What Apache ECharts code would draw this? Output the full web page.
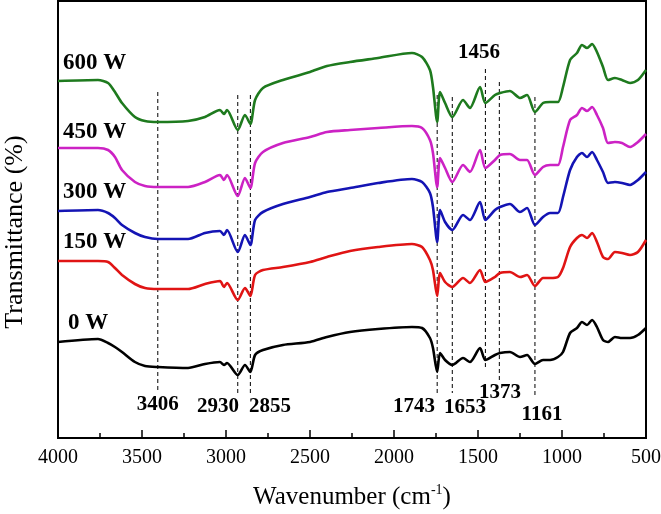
<!DOCTYPE html>
<html><head><meta charset="utf-8">
<script src="https://cdn.jsdelivr.net/npm/echarts/dist/echarts.min.js"></script>
<style>html,body{margin:0;padding:0;background:#fff}#c{width:661px;height:514px}</style>
</head><body><div id="c"></div>
<script>
const wavenumbers = [4000, 3762, 3702, 3661, 3619, 3542, 3482, 3406, 3226, 3125, 3036, 3012, 2994, 2930, 2887, 2855, 2827, 2780, 2661, 2500, 2399, 2262, 2095, 1893, 1833, 1786, 1768, 1743, 1726, 1696, 1653, 1589, 1548, 1488, 1456, 1399, 1369, 1310, 1250, 1208, 1161, 1113, 1071, 1024, 994, 952, 911, 881, 851, 821, 792, 756, 726, 685, 643, 595, 548, 500];

const t600 = [357, 358, 355, 346, 335, 321, 317, 316, 317, 321, 328, 324, 328, 308, 323, 314, 338, 350, 358, 366, 372, 376, 380, 385, 381, 368, 351, 316, 346, 335, 321, 338, 330, 351, 335, 343, 345, 347, 340, 343, 326, 335, 336, 336, 351, 378, 385, 393, 390, 394, 386, 371, 358, 360, 358, 355, 358, 368];
const t450 = [290, 290, 288, 281, 268, 256, 252, 251, 251, 256, 263, 258, 263, 242, 260, 250, 275, 286, 295, 301, 306, 308, 310, 312, 310, 298, 285, 251, 280, 270, 256, 273, 266, 288, 270, 278, 283, 284, 278, 278, 263, 271, 273, 273, 291, 318, 323, 330, 327, 331, 323, 310, 295, 296, 295, 291, 296, 304];
const t300 = [227, 228, 225, 220, 213, 205, 201, 199, 199, 205, 207, 203, 208, 186, 203, 193, 218, 226, 234, 241, 246, 250, 255, 259, 256, 245, 231, 196, 228, 216, 208, 223, 218, 236, 218, 228, 231, 234, 226, 230, 213, 221, 225, 225, 241, 268, 281, 285, 281, 286, 278, 266, 255, 256, 255, 253, 258, 266];
const t150 = [177, 177, 176, 170, 163, 154, 150, 149, 149, 154, 157, 151, 155, 138, 150, 142, 163, 168, 171, 176, 181, 187, 191, 194, 191, 178, 168, 142, 165, 156, 151, 160, 155, 168, 156, 161, 165, 166, 161, 163, 152, 160, 160, 161, 170, 191, 200, 203, 200, 205, 196, 181, 179, 186, 185, 183, 186, 198];
const t0 = [96, 99, 95, 91, 86, 76, 72, 71, 70, 74, 76, 73, 75, 63, 73, 66, 83, 88, 93, 96, 101, 106, 109, 111, 110, 100, 90, 66, 85, 78, 73, 80, 76, 90, 78, 83, 85, 86, 81, 83, 74, 78, 78, 81, 86, 105, 110, 116, 113, 118, 111, 98, 96, 101, 100, 100, 103, 110];

const seriesNames = ['600 W', '450 W', '300 W', '150 W', '0 W'];
const seriesColors = ['#1e7a1e', '#cc22c4', '#1414b4', '#e01414', '#000000'];
const seriesLabelX = [3970, 3970, 3970, 3970, 3940];
const seriesLabelY = [375, 306, 246, 196, 115];

const peakWavenumbers = [3406, 2930, 2855, 1743, 1653, 1456, 1373, 1161];
const peakLineTop = [346, 343, 343, 343, 341, 369, 356, 341];
const peakLineBottom = [48, 45, 45, 45, 45, 71, 58, 43];
const peakLabels = ['3406', '2930', '2855', '1743', '1653', '1456', '1373', '1161'];
const peakLabelX = [3406, 3048, 2738, 1881, 1577, 1494, 1369, 1119];
const peakLabelY = [33, 31, 31, 31, 30, 385, 45, 23];

const curves = [t600, t450, t300, t150, t0];
const serif = 'Liberation Serif';

const series = [];
peakWavenumbers.forEach((w, i) => {
  series.push({
    type: 'line', silent: true, symbol: 'none', z: 1,
    data: [[w, peakLineTop[i]], [w, peakLineBottom[i]]],
    lineStyle: { color: '#000', width: 1, type: [4, 3] }
  });
});
curves.forEach((c, i) => {
  series.push({
    name: seriesNames[i], type: 'line', showSymbol: false, smooth: 0.25, z: 3,
    data: wavenumbers.map((w, j) => [w, c[j]]),
    lineStyle: { color: seriesColors[i], width: 2.6 }
  });
});
const labelSeries = (names, xs, ys, size, align) => ({
  type: 'scatter', symbol: 'circle', symbolSize: 0.1, silent: true, z: 5,
  itemStyle: { color: '#000', opacity: 1 },
  data: names.map((n, i) => ({ name: n, value: [xs[i], ys[i]] })),
  label: { show: true, position: 'inside', align: align, verticalAlign: 'middle', formatter: p => p.name,
    fontFamily: serif, fontWeight: 'bold', fontSize: size, color: '#000', opacity: 1, textBorderWidth: 0 }
});
series.push(labelSeries(seriesNames, seriesLabelX, seriesLabelY, 23, 'left'));
series.push(labelSeries(peakLabels, peakLabelX, peakLabelY, 21, 'center'));

const chart = echarts.init(document.getElementById('c'), null, { renderer: 'canvas' });
chart.setOption({
  animation: false,
  backgroundColor: '#fff',
  grid: { left: 58, right: 15, top: 1, bottom: 76, show: true, borderColor: '#000', borderWidth: 2,
    containLabel: false, outerBoundsMode: 'none' },
  xAxis: {
    type: 'value', min: 500, max: 4000, interval: 500, inverse: true,
    name: 'Wavenumber (cm{sup|-1}{n|)}', nameLocation: 'middle', nameGap: 45,
    nameTextStyle: { fontFamily: serif, fontSize: 25, color: '#000',
      rich: { sup: { fontFamily: serif, fontSize: 14, color: '#000', padding: [0, 0, 14, 0] },
              n: { fontFamily: serif, fontSize: 25, color: '#000' } } },
    axisLine: { show: true, lineStyle: { color: '#000', width: 2 } },
    axisTick: { show: true, inside: true, length: 8, lineStyle: { color: '#000', width: 1.5 } },
    minorTick: { show: true, splitNumber: 2, length: 5, lineStyle: { color: '#000', width: 1.5 } },
    axisLabel: { fontFamily: serif, fontSize: 20, color: '#000', margin: 10, formatter: v => String(v) },
    splitLine: { show: false }
  },
  yAxis: {
    type: 'value', min: 0, max: 437,
    axisLine: { show: false }, axisTick: { show: false }, axisLabel: { show: false },
    splitLine: { show: false }
  },
  graphic: [{
    type: 'text', x: 15, y: 232, rotation: Math.PI / 2, silent: true,
    style: { text: 'Transmittance (%)', font: '26px "Liberation Serif"', fill: '#000',
      align: 'center', verticalAlign: 'middle' }
  }],
  series: series
});
</script></body></html>
